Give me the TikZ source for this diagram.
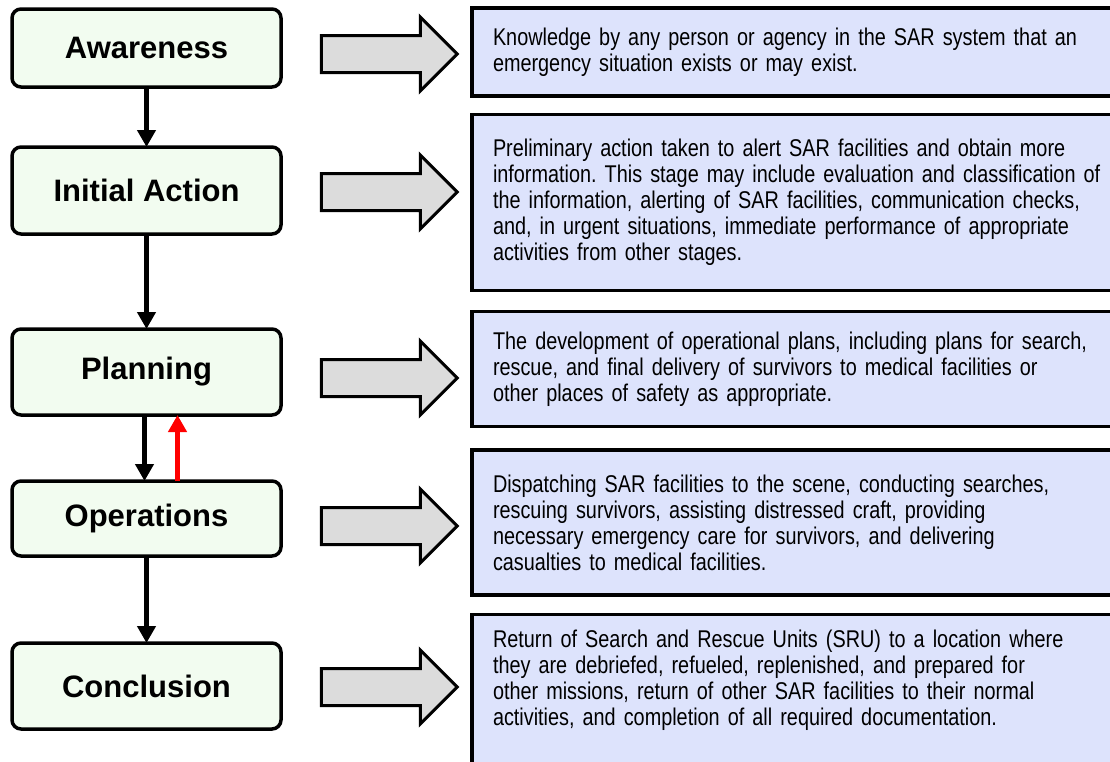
\documentclass[tikz,border=0pt]{standalone}
\usepackage{fontspec}
\setmainfont{Liberation Sans}
\newfontfamily\narrowfont[FakeStretch=0.82]{Liberation Sans}
\usetikzlibrary{arrows.meta,shapes.arrows}

\definecolor{stagefill}{RGB}{242,252,240}
\definecolor{descfill}{RGB}{221,227,252}
\definecolor{arrowfill}{RGB}{220,220,220}

\tikzset{
  stagebox/.style={draw, line width=3.5pt, rounded corners=9pt, fill=stagefill,
    minimum width=269pt, outer sep=0pt, font=\fontsize{31}{36}\selectfont\bfseries},
  descbox/.style={draw, line width=3.5pt, fill=descfill, anchor=north west,
    text width=640pt, inner xsep=21pt, align=left, outer sep=0pt,
    font=\narrowfont\fontsize{24.2}{26}\selectfont\frenchspacing},
  bigarrow/.style={single arrow, draw, line width=3pt, fill=arrowfill,
    minimum height=136pt, inner xsep=0pt, inner ysep=17pt,
    single arrow head extend=18.5pt, outer sep=0pt},
  flow/.style={line width=4.5pt, -{Triangle[width=18pt,length=17pt]}},
}

\begin{document}
\begin{tikzpicture}[x=1pt, y=-1pt]

% Page
      \clip (0,0) rectangle (1110,761);

% Stages
      \node[stagebox, minimum height=78pt] (aware) at (146.5,48) {Awareness};
      \node[stagebox, minimum height=87pt] (init) at (146.5,190.5) {Initial Action};
      \node[stagebox, minimum height=86pt] (plan) at (146.5,372) {Planning};
      \node[stagebox, minimum height=75pt] (oper) at (146.5,518.5) {Operations};
      \node[stagebox, minimum height=86pt] (concl) at (146.5,686) {Conclusion};

% Flow between stages
      \draw[flow] (aware) -- (init);
      \draw[flow] (init) -- (plan);
      \draw[flow] ([xshift=-2pt]plan.south) -- ([xshift=-2pt]oper.north);
      \draw[flow, red] ([xshift=31pt]oper.north) -- ([xshift=31pt]plan.south);
      \draw[flow] (oper) -- (concl);

% Block arrows
      \node[bigarrow] (ar1) at (380,54) {};
      \node[bigarrow] (ar2) at (380,192) {};
      \node[bigarrow] (ar3) at (380,378) {};
      \node[bigarrow] (ar4) at (380,526) {};
      \node[bigarrow] (ar5) at (380,687) {};

% Descriptions
      \node[descbox, minimum height=88pt] (desc1) at (472,8)
        {Knowledge by any person or agency in the SAR system that an\\
         emergency situation exists or may exist.};
      \node[descbox, minimum height=176pt] (desc2) at (472,114.5)
        {Preliminary action taken to alert SAR facilities and obtain more\\
         information. This stage may include evaluation and classification of\\
         the information, alerting of SAR facilities, communication checks,\\
         and, in urgent situations, immediate performance of appropriate\\
         activities from other stages.};
      \node[descbox, minimum height=115pt] (desc3) at (472,311.5)
        {The development of operational plans, including plans for search,\\
         rescue, and final delivery of survivors to medical facilities or\\
         other places of safety as appropriate.};
      \node[descbox, minimum height=145pt] (desc4) at (472,450)
        {Dispatching SAR facilities to the scene, conducting searches,\\
         rescuing survivors, assisting distressed craft, providing\\
         necessary emergency care for survivors, and delivering\\
         casualties to medical facilities.};
      \node[descbox, minimum height=170pt, text depth=122pt] (desc5) at (472,614.5)
        {Return of Search and Rescue Units (SRU) to a location where\\
         they are debriefed, refueled, replenished, and prepared for\\
         other missions, return of other SAR facilities to their normal\\
         activities, and completion of all required documentation.};

    \end{tikzpicture}
\end{document}
